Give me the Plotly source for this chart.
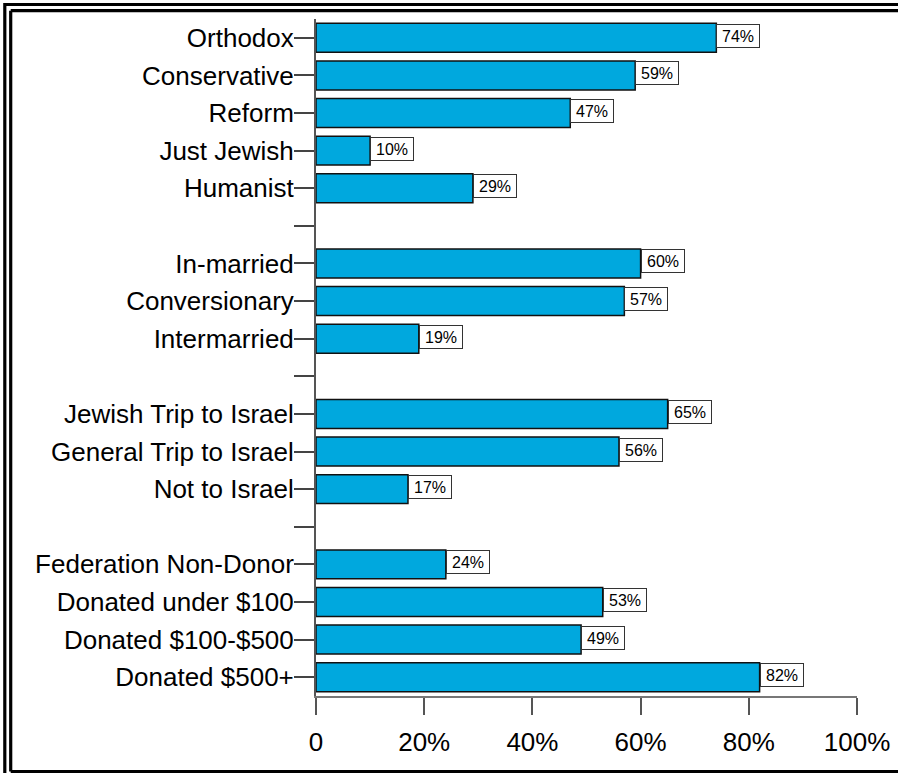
import plotly.graph_objects as go

# Data (gaps between groups are empty rows)
categories = ["Orthodox", "Conservative", "Reform", "Just Jewish", "Humanist", "",
              "In-married", "Conversionary", "Intermarried", "",
              "Jewish Trip to Israel", "General Trip to Israel", "Not to Israel", "",
              "Federation Non-Donor", "Donated under $100", "Donated $100-$500", "Donated $500+"]
values = [74, 59, 47, 10, 29, None,
          60, 57, 19, None,
          65, 56, 17, None,
          24, 53, 49, 82]
x_tickvals = [0, 20, 40, 60, 80, 100]
x_ticktext = ["0", "20%", "40%", "60%", "80%", "100%"]

W, H = 898, 773
ML, MR, MT, MB = 316, 41, 19, 77
PW, PH = W - ML - MR, H - MT - MB

rows = list(range(len(categories)))
bx = [v for v in values if v is not None]
by = [r for r, v in zip(rows, values) if v is not None]

fig = go.Figure()
fig.add_trace(go.Bar(
    x=bx, y=by, orientation="h", width=0.77,
    marker=dict(color="#00A8DE", line=dict(color="#111111", width=1.5)),
    hoverinfo="skip",
))

for r, v in zip(by, bx):
    fig.add_annotation(
        x=v, y=r, xref="x", yref="y", text=f"{v}%", showarrow=False,
        xanchor="left", yanchor="middle", yshift=2,
        width=42, height=22, borderpad=0, borderwidth=1,
        bordercolor="#333333", bgcolor="white",
        font=dict(family="Liberation Sans, Arial", size=16, color="black"),
    )

def px2paper_x(px):
    return (px - ML) / PW

def px2paper_y(py):
    return (MT + PH - py) / PH

# double frame: only top, left and bottom edges fall inside the page
frame_lines = [
    (4.8, 4.5, 898, 4.5),       # outer top
    (4.8, 3, 4.8, 773),         # outer left
    (10.7, 10.7, 898, 10.7),    # inner top
    (10.7, 10.7, 10.7, 771.5),  # inner left
    (10.7, 771.5, 898, 771.5),  # inner bottom
]
for (x0, y0, x1, y1) in frame_lines:
    fig.add_shape(type="line", xref="paper", yref="paper",
                  x0=px2paper_x(x0), x1=px2paper_x(x1),
                  y0=px2paper_y(y0), y1=px2paper_y(y1),
                  line=dict(color="black", width=3.2), layer="above")

fig.update_layout(
    width=W, height=H,
    margin=dict(l=ML, r=MR, t=MT, b=MB, autoexpand=False),
    paper_bgcolor="white", plot_bgcolor="white",
    showlegend=False,
    font=dict(family="Liberation Sans, Arial", size=26, color="black"),
)
fig.update_xaxes(
    range=[0, 100], tickvals=x_tickvals, ticktext=x_ticktext,
    showgrid=False, zeroline=False, showline=True, linecolor="#777777", linewidth=2,
    ticks="outside", ticklen=17, tickwidth=2, tickcolor="#555555",
    tickfont=dict(size=26, color="black"), ticklabelstandoff=5, fixedrange=True,
)
fig.update_yaxes(
    range=[len(categories) - 0.5, -0.5], tickvals=rows, ticktext=categories,
    showgrid=False, zeroline=False, showline=True, linecolor="#555555", linewidth=2,
    ticks="outside", ticklen=20, tickwidth=2, tickcolor="#444444",
    tickfont=dict(size=26, color="black"), ticklabelstandoff=-5, fixedrange=True,
)

fig.write_html("out.html", config={"displayModeBar": False},
               post_script="document.body.style.margin='0px';document.body.style.overflow='hidden';")
